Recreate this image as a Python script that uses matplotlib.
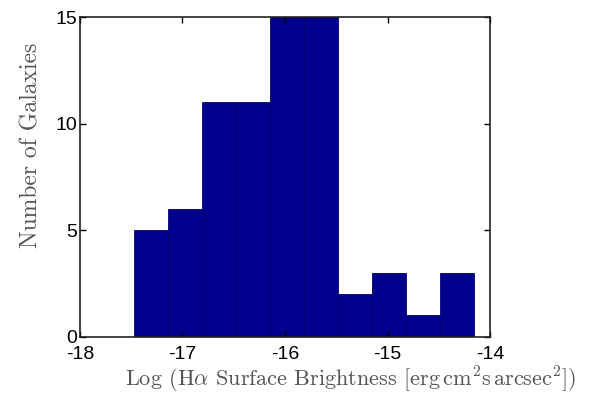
import matplotlib
matplotlib.use("Agg")
import matplotlib.pyplot as plt
import numpy as np

bin_left = -17.47
bin_width = 0.3314
counts = [5, 6, 11, 11, 15, 15, 2, 3, 1, 3]
xticks = [-18, -17, -16, -15, -14]
yticks = [0, 5, 10, 15]

plt.rcParams['mathtext.fontset'] = 'cm'
fig = plt.figure(figsize=(6.05, 3.97), dpi=100)
ax = fig.add_axes([0.132, 0.152, 0.678, 0.805])

edges = bin_left + bin_width * np.arange(len(counts) + 1)
ax.hist(edges[:-1], bins=edges, weights=counts, color='#00008c',
        edgecolor='#000070', linewidth=0.6)

ax.set_xlim(-18, -14)
ax.set_ylim(0, 15)
ax.set_xticks(xticks)
ax.set_yticks(yticks)
ax.set_xticklabels([str(t) for t in xticks], family='Liberation Sans', fontsize=14)
ax.set_yticklabels([str(t) for t in yticks], family='Liberation Sans', fontsize=14)
ax.tick_params(direction='in', top=True, right=True, length=4, width=1)
ax.tick_params(axis='x', pad=7)
ax.tick_params(axis='y', pad=2)
for s in ax.spines.values():
    s.set_linewidth(1.2)
    s.set_color('#222222')

xl = ax.set_xlabel(r'Log (H$\alpha$ Surface Brightness [erg$\,$cm$^2$s$\,$arcsec$^2$])',
                   family='cmr10', fontsize=16, color='#555555')
yl = ax.set_ylabel('Number of Galaxies', family='cmr10', fontsize=17, color='#555555')
ax.xaxis.set_label_coords(0.66, -0.137)
xl.set_va('center')
ax.yaxis.set_label_coords(-0.117, 0.599)
yl.set_va('center')

fig.savefig('out.png', dpi=100)
